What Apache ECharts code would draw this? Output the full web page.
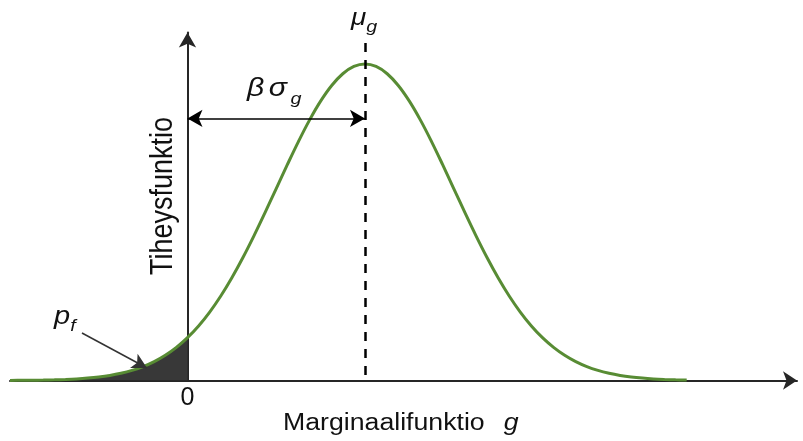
<!DOCTYPE html>
<html>
<head>
<meta charset="utf-8">
<script src="https://cdn.jsdelivr.net/npm/echarts@6/dist/echarts.min.js"></script>
<style>
  html, body { margin: 0; padding: 0; background: #fff; }
  #chart { width: 803px; height: 441px; }
</style>
</head>
<body>
<div id="chart"></div>
<script>
// Margin g in units of sigma_g; the mean sits at beta = 2 sigma from zero.
const gValues = [
  -2.0, -1.875, -1.75, -1.625, -1.5, -1.375, -1.25, -1.125,
  -1.0, -0.875, -0.75, -0.625, -0.5, -0.375, -0.25, -0.125,
  0.0, 0.125, 0.25, 0.375, 0.5, 0.625, 0.75, 0.875,
  1.0, 1.125, 1.25, 1.375, 1.5, 1.625, 1.75, 1.875,
  2.0, 2.125, 2.25, 2.375, 2.5, 2.625, 2.75, 2.875,
  3.0, 3.125, 3.25, 3.375, 3.5, 3.625, 3.75, 3.875,
  4.0, 4.125, 4.25, 4.375, 4.5, 4.625, 4.75, 4.875,
  5.0, 5.125, 5.25, 5.375, 5.5, 5.625
];
// Relative density at each g (peak = 1)
const density = [
  0.0003, 0.0005, 0.0009, 0.0014, 0.0022, 0.0034, 0.0051, 0.0076,
  0.0111, 0.0160, 0.0228, 0.0319, 0.0439, 0.0596, 0.0796, 0.1046,
  0.1353, 0.1724, 0.2163, 0.2671, 0.3247, 0.3886, 0.4578, 0.5311,
  0.6065, 0.6819, 0.7548, 0.8226, 0.8825, 0.9321, 0.9692, 0.9922,
  1.0000, 0.9922, 0.9692, 0.9321, 0.8825, 0.8226, 0.7548, 0.6819,
  0.6065, 0.5311, 0.4578, 0.3886, 0.3247, 0.2671, 0.2163, 0.1724,
  0.1353, 0.1046, 0.0796, 0.0596, 0.0439, 0.0319, 0.0228, 0.0160,
  0.0111, 0.0076, 0.0051, 0.0034, 0.0022, 0.0014
];
const meanG = 2.0;
const zeroTick = [0];

const curve = gValues.map((g, i) => [g, density[i]]);
const tail = curve.filter(p => p[0] <= 0);

const FONT = '"Liberation Sans", Arial, sans-serif';
const WIDE = 1.16; // horizontal stretch of the annotation lettering

const chart = echarts.init(document.getElementById('chart'));

chart.setOption({
  animation: false,
  backgroundColor: '#ffffff',
  grid: { left: 10, right: 6, top: 32.5, bottom: 60.5 },
  xAxis: {
    type: 'value', min: -2.0, max: 6.868,
    splitLine: { show: false },
    axisTick: { show: false },
    axisLine: {
      onZero: true,
      symbol: ['none', 'arrow'], symbolSize: [14, 14],
      lineStyle: { color: '#262626', width: 2 }
    },
    axisLabel: {
      customValues: zeroTick, fontFamily: FONT, fontSize: 25, color: '#111', margin: 5
    }
  },
  yAxis: {
    type: 'value', min: 0, max: 1.0995,
    splitLine: { show: false },
    axisTick: { show: false },
    axisLabel: { show: false },
    axisLine: {
      onZero: true,
      symbol: ['none', 'arrow'], symbolSize: [13, 15],
      lineStyle: { color: '#262626', width: 2 }
    }
  },
  series: [
    {
      // failure probability region under the left tail
      type: 'line', data: tail, smooth: 0.4, symbol: 'none',
      lineStyle: { width: 0 },
      areaStyle: { color: '#383838', opacity: 1 },
      z: 1
    },
    {
      type: 'line', data: curve, smooth: 0.4, symbol: 'none',
      lineStyle: { color: '#588c34', width: 3 },
      z: 3,
      markLine: {
        silent: true,
        label: { show: false },
        data: [
          [
            { coord: [meanG, 1.066], symbol: 'none', lineStyle: { color: '#000', width: 2.5, type: [9, 8] } },
            { coord: [meanG, 0], symbol: 'none' }
          ],
          [
            { coord: [0, 0.828], symbol: 'arrow', symbolSize: [13, 15], lineStyle: { color: '#000', width: 1.5, type: 'solid' } },
            { coord: [meanG, 0.828], symbol: 'arrow', symbolSize: [13, 15] }
          ],
          [
            { coord: [-1.189, 0.150], symbol: 'none', lineStyle: { color: '#333', width: 1.5, type: 'solid' } },
            { coord: [-0.456, 0.0395], symbol: 'arrow', symbolSize: [12, 15] }
          ]
        ]
      }
    }
  ],
  graphic: [
    {
      type: 'text', x: 283, y: 424, scaleX: WIDE,
      style: {
        text: '{n|Marginaalifunktio} {v|g}', verticalAlign: 'middle',
        rich: {
          n: { font: '23px ' + FONT, fill: '#111' },
          v: { font: 'italic 23px ' + FONT, fill: '#111', padding: [0, 0, 0, 13] }
        }
      }
    },
    {
      type: 'text', x: 163, y: 196, rotation: Math.PI / 2, scaleY: WIDE,
      style: { text: 'Tiheysfunktio', font: '27px ' + FONT, fill: '#111', align: 'center', verticalAlign: 'middle' }
    },
    {
      type: 'text', x: 351, y: 0, scaleX: WIDE,
      style: {
        text: '{m|μ}{s|g}', verticalAlign: 'top',
        rich: {
          m: { font: 'italic 24px ' + FONT, fill: '#111', lineHeight: 36, verticalAlign: 'middle' },
          s: { font: 'italic 17px ' + FONT, fill: '#111', lineHeight: 17, verticalAlign: 'bottom' }
        }
      }
    },
    {
      type: 'text', x: 247, y: 70, scaleX: WIDE,
      style: {
        text: '{m|β}{m2|σ}{s|g}', verticalAlign: 'top',
        rich: {
          m: { font: 'italic 26px ' + FONT, fill: '#111', lineHeight: 38, verticalAlign: 'middle', padding: [0, 4, 0, 0] },
          m2: { font: 'italic 26px ' + FONT, fill: '#111', lineHeight: 38, verticalAlign: 'middle', padding: [0, 3, 0, 0] },
          s: { font: 'italic 17px ' + FONT, fill: '#111', lineHeight: 17, verticalAlign: 'bottom' }
        }
      }
    },
    {
      type: 'text', x: 54, y: 299, scaleX: WIDE,
      style: {
        text: '{m|p}{s|f}', verticalAlign: 'top',
        rich: {
          m: { font: 'italic 25px ' + FONT, fill: '#111', lineHeight: 36, verticalAlign: 'middle' },
          s: { font: 'italic 17px ' + FONT, fill: '#111', lineHeight: 17, verticalAlign: 'bottom' }
        }
      }
    }
  ]
});
</script>
</body>
</html>
